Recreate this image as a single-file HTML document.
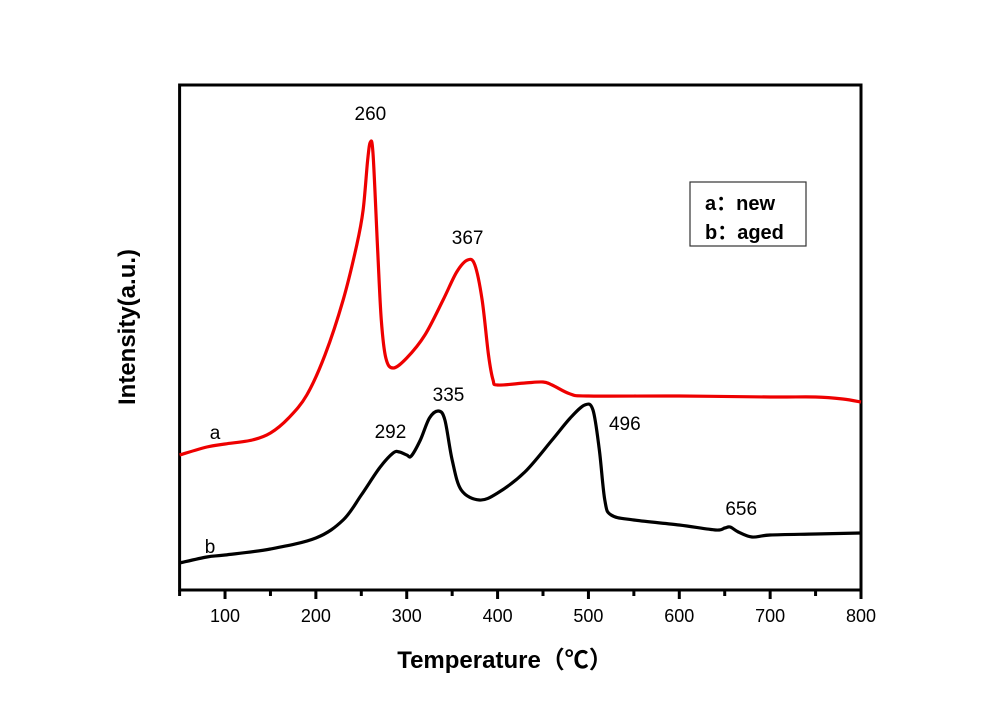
<!DOCTYPE html>
<html><head><meta charset="utf-8"><style>
body{margin:0;background:#fff}
svg{display:block;font-family:"Liberation Sans","Noto Sans CJK SC",sans-serif}
</style></head><body>
<svg width="1000" height="707" viewBox="0 0 1000 707">
<g id="plot"></g>
</svg>
<script>
const temps=[50,80,100,130,150,170,190,210,230,245,252,257,260,263,268,272,277,285,300,320,340,355,367,375,383,390,395,400,430,450,460,480,500,600,700,750,780,800];
const seriesA=[135,143,146,150,157,172,195,235,290,345,380,430,448,435,340,270,232,222,232,255,290,318,330,325,290,235,210,205,207,208,205,196,194,194,193,193,191,188];
const tempsB=[50,80,100,150,200,230,250,270,285,292,300,305,315,325,335,342,350,360,380,400,430,460,480,496,505,512,518,525,550,600,640,650,656,665,680,700,750,800];
const seriesB=[27,33,35,41,52,70,95,122,137,138,135,134,150,172,179,170,130,100,90,97,118,150,172,185,180,140,90,75,70,65,60,62,63,58,53,55,56,57];
const xTicks=[100,200,300,400,500,600,700,800];
const peakLabels=[["260",260,448,"a"],["367",367,330,"a"],["292",292,138,"b"],["335",335,179,"b"],["496",496,185,"b"],["656",656,63,"b"]];
const NS="http://www.w3.org/2000/svg";
const X0=179.6,X1=861,T0=50,T1=800,Y0=590;
const xs=t=>X0+(t-T0)/(T1-T0)*(X1-X0);
const ys=v=>Y0-v;
const g=document.getElementById('plot');
function mk(tag,attrs,parent){const e=document.createElementNS(NS,tag);for(const k in attrs)e.setAttribute(k,attrs[k]);(parent||g).appendChild(e);return e;}
function smooth(px,py){let d=`M${px[0]},${py[0]}`;for(let i=0;i<px.length-1;i++){const p0=i?i-1:i,p3=i+2<px.length?i+2:i+1;const c1x=px[i]+(px[i+1]-px[p0])/6,c1y=py[i]+(py[i+1]-py[p0])/6,c2x=px[i+1]-(px[p3]-px[i])/6,c2y=py[i+1]-(py[p3]-py[i])/6;d+=` C${c1x},${c1y} ${c2x},${c2y} ${px[i+1]},${py[i+1]}`;}return d;}
let fr=mk('rect',{x:X0,y:85,width:X1-X0,height:Y0-85,fill:'none',stroke:'#000','stroke-width':3});

for(let t=50;t<=800;t+=50){const major=t%100===0;const tk=mk('line',{x1:xs(t),x2:xs(t),y1:Y0,y2:Y0+(major?9:6),stroke:'#000','stroke-width':3});
}
xTicks.forEach(t=>{const l=mk('text',{x:xs(t),y:622,'text-anchor':'middle','font-size':18});l.textContent=t;
});
let pa=mk('path',{d:smooth(temps.map(xs),seriesA.map(ys)),fill:'none',stroke:'#ee0000','stroke-width':3.2,'stroke-linejoin':'round'});

let pb=mk('path',{d:smooth(tempsB.map(xs),seriesB.map(ys)),fill:'none',stroke:'#000','stroke-width':3.2,'stroke-linejoin':'round'});

const offs={"260":[0,-22],"367":[0,-16],"292":[-9,-14],"335":[10,-10],"496":[40,25],"656":[11,-12]};
peakLabels.forEach(p=>{const o=offs[p[0]];const l=mk('text',{x:xs(p[1])+o[0],y:ys(p[2])+o[1],'text-anchor':'middle','font-size':19});l.textContent=p[0];
});
let la=mk('text',{x:215,y:439,'text-anchor':'middle','font-size':19});la.textContent='a';

let lb=mk('text',{x:210,y:553,'text-anchor':'middle','font-size':19});lb.textContent='b';

let lg=mk('rect',{x:690,y:182,width:116,height:64,fill:'#fff',stroke:'#333','stroke-width':1.2});

let l1=mk('text',{x:705,y:210,'font-size':20,'font-weight':'bold'});l1.textContent='a：new';

let l2=mk('text',{x:705,y:239,'font-size':20,'font-weight':'bold'});l2.textContent='b：aged';

let xt=mk('text',{x:505,y:668,'text-anchor':'middle','font-size':24,'font-weight':'bold'});xt.textContent='Temperature（℃）';

let yt=mk('text',{x:0,y:0,'text-anchor':'middle','font-size':24,'font-weight':'bold',transform:'translate(135,327) rotate(-90)'});yt.textContent='Intensity(a.u.)';

</script>
</body></html>
